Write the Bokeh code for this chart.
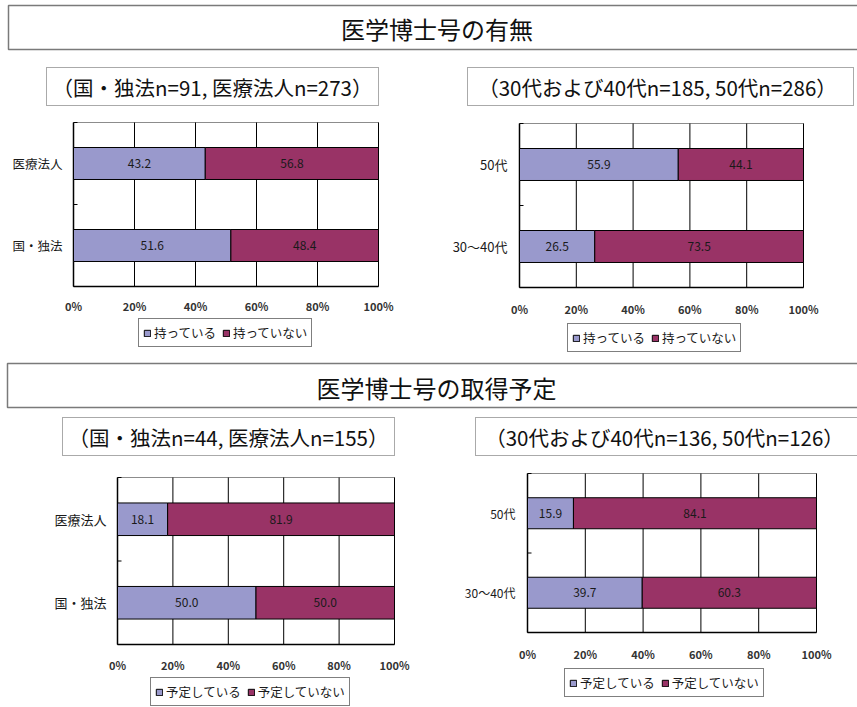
from bokeh.plotting import figure
from bokeh.models import Range1d, Legend, LegendItem
from bokeh.core.properties import value
from bokeh.embed import file_html
from bokeh.resources import INLINE

W, H = 857, 707
FONT = "Noto Sans CJK JP"
BLUE = "#9999CC"
RED = "#993366"

# ---- data ----
cats_org = ["国・独法", "医療法人"]
cats_age = ["30～40代", "50代"]

have_org = [51.6, 43.2]
have_not_org = [48.4, 56.8]
have_age = [26.5, 55.9]
have_not_age = [73.5, 44.1]

plan_org = [50.0, 18.1]
plan_not_org = [50.0, 81.9]
plan_age = [39.7, 15.9]
plan_not_age = [60.3, 84.1]

ticks = [0, 20, 40, 60, 80, 100]
tick_labels = ["0%", "20%", "40%", "60%", "80%", "100%"]

title_have = "医学博士号の有無"
title_plan = "医学博士号の取得予定"
sub_have_org = "（国・独法n=91, 医療法人n=273）"
sub_have_age = "（30代および40代n=185, 50代n=286）"
sub_plan_org = "（国・独法n=44, 医療法人n=155）"
sub_plan_age = "（30代および40代n=136, 50代n=126）"
legend_have = ["持っている", "持っていない"]
legend_plan = ["予定している", "予定していない"]

# ---- canvas: pixel coordinates, y grows downward ----
p = figure(width=W, height=H, x_range=Range1d(0, W), y_range=Range1d(H, 0),
           output_backend="svg", toolbar_location=None,
           x_axis_type=None, y_axis_type=None, min_border=0)
p.outline_line_color = None
p.background_fill_color = "white"
p.border_fill_color = "white"


def linear_range(v0, v1, p0, p1, length):
    """Range whose values v0, v1 land on screen pixels p0, p1."""
    scale = (p1 - p0) / (v1 - v0)
    start = v0 - p0 / scale
    return Range1d(start=start, end=start + length / scale)


def header(text, box, cy):
    l, r, t, b = box
    p.quad(left=[l], right=[r], top=[t], bottom=[b], fill_color="white",
           line_color="#7a7a7a", line_width=1.5)
    p.text(x=[(l + min(r, W)) / 2 + 4], y=[cy], text=[text], text_font=value(FONT),
           text_font_size="24px", text_align="center", text_baseline="middle",
           text_color="#111111")


def subtitle(text, box, cx):
    l, r, t, b = box
    p.quad(left=[l], right=[r], top=[t], bottom=[b], fill_color="white",
           line_color="#555555", line_width=1, line_dash="1 1")
    p.text(x=[cx], y=[(t + b) / 2], text=[text], text_font=value(FONT),
           text_font_size="20.5px", text_align="center", text_baseline="middle",
           text_color="#111111")


def panel(key, cats, first, second, labels, frame, cat_right, cat_size,
          tick_y, legend_at):
    left, right, top, bottom = frame
    n = len(cats)
    xr, yr = f"x_{key}", f"y_{key}"
    p.extra_x_ranges[xr] = linear_range(0, 100, left, right, W)
    p.extra_y_ranges[yr] = linear_range(-0.5, n - 0.5, H - bottom, H - top, H)
    kw = dict(x_range_name=xr, y_range_name=yr)

    # plot area
    p.quad(left=[0], right=[100], bottom=[-0.5], top=[n - 0.5],
           fill_color="white", line_color="#8c8c8c", line_width=1, **kw)
    # vertical gridlines
    p.segment(x0=ticks[1:], x1=ticks[1:], y0=[-0.5] * 5, y1=[n - 0.5] * 5,
              line_color="black", line_width=1, **kw)
    # axes
    p.segment(x0=[0, 0], x1=[0, 100], y0=[-0.5, -0.5], y1=[n - 0.5, -0.5],
              line_color="black", line_width=1.5, **kw)
    tick_len = 400 / (right - left)
    bounds = [i - 0.5 for i in range(n + 1)]
    p.segment(x0=[0] * (n + 1), x1=[tick_len] * (n + 1), y0=bounds, y1=bounds,
              line_color="black", line_width=1, **kw)

    idx = list(range(n))
    ends = [a + b for a, b in zip(first, second)]
    r1 = p.hbar(y=idx, left=0, right=first, height=0.39, fill_color=BLUE,
                line_color="black", line_width=1, **kw)
    r2 = p.hbar(y=idx, left=first, right=ends, height=0.39, fill_color=RED,
                line_color="black", line_width=1, **kw)

    p.text(x=[a / 2 for a in first], y=idx, text=[f"{a:.1f}" for a in first],
           text_font=value(FONT), text_font_size="12px", text_align="center",
           text_baseline="middle", text_color="#1a1a1a", **kw)
    p.text(x=[a + b / 2 for a, b in zip(first, second)], y=idx,
           text=[f"{b:.1f}" for b in second], text_font=value(FONT),
           text_font_size="12px", text_align="center", text_baseline="middle",
           text_color="#1a1a1a", **kw)

    # x tick labels
    p.text(x=ticks, y=[tick_y] * len(ticks), text=tick_labels, x_range_name=xr,
           text_font=value(FONT), text_font_size="11px", text_font_style="bold",
           text_align="center", text_baseline="middle", text_color="#333333")
    # category labels
    p.text(x=[cat_right] * n, y=idx, text=cats, y_range_name=yr,
           text_font=value(FONT), text_font_size=cat_size, text_align="right",
           text_baseline="middle", text_color="#1a1a1a")

    lx, lbottom = legend_at
    legend = Legend(items=[LegendItem(label=labels[0], renderers=[r1]),
                           LegendItem(label=labels[1], renderers=[r2])],
                    location=(lx, H - lbottom), orientation="horizontal",
                    margin=0, padding=4, spacing=6, label_standoff=3,
                    glyph_width=8, glyph_height=8, label_height=12,
                    label_text_font=FONT, label_text_font_size="12.5px",
                    label_text_color="#1a1a1a",
                    border_line_color="black", border_line_width=1,
                    background_fill_color="white", background_fill_alpha=1)
    p.add_layout(legend)


# ---- upper block: 医学博士号の有無 ----
header(title_have, (8, 862, 5, 49), 28)
subtitle(sub_have_org, (46, 378, 67, 105), 212)
subtitle(sub_have_age, (467, 853, 67, 105), 657)
panel("ho", cats_org, have_org, have_not_org, legend_have,
      (73, 378, 122, 286), 62, "12.5px", 305, (138, 347))
panel("ha", cats_age, have_age, have_not_age, legend_have,
      (519, 803, 123, 287), 507, "13px", 308, (567, 352))

# ---- lower block: 医学博士号の取得予定 ----
header(title_plan, (7, 862, 363, 407), 387)
subtitle(sub_plan_org, (62, 394, 417, 455), 228)
subtitle(sub_plan_age, (475, 862, 417, 455), 664)
panel("po", cats_org, plan_org, plan_not_org, legend_plan,
      (117, 394, 477, 644), 106, "13px", 664, (150, 706))
panel("pa", cats_age, plan_age, plan_not_age, legend_plan,
      (527, 816, 473, 632), 515, "12px", 653, (564, 697))

open("out.html", "w").write(file_html(p, INLINE))
